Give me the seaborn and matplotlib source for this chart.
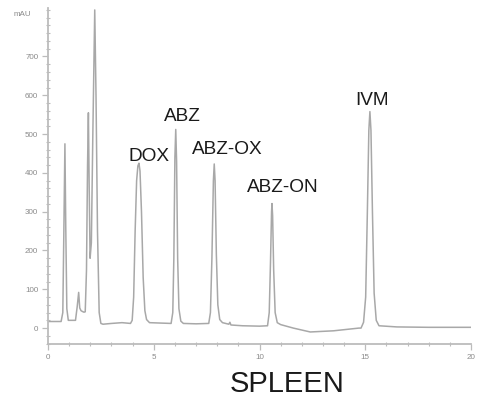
import numpy as np
import pandas as pd
import matplotlib
matplotlib.use("Agg")
import matplotlib.pyplot as plt
from matplotlib.ticker import MultipleLocator
import seaborn as sns

# ---- Chromatogram trace (retention time in min, signal in mAU) ----
time_min = [0.00, 0.62, 0.70, 0.75, 0.80, 0.84, 0.89, 0.96, 1.30, 1.38, 1.45, 1.50,
            1.56, 1.62, 1.70, 1.76, 1.82, 1.87, 1.91, 1.95, 1.99, 2.05, 2.12, 2.21,
            2.27, 2.34, 2.42, 2.50, 2.60, 3.00, 3.50, 3.90, 3.98, 4.05, 4.12, 4.19,
            4.25, 4.30, 4.35, 4.42, 4.50, 4.58, 4.66, 4.80, 5.30, 5.82, 5.90, 5.95,
            6.00, 6.04, 6.08, 6.13, 6.19, 6.28, 6.40, 7.00, 7.60, 7.68, 7.75, 7.82,
            7.86, 7.90, 7.96, 8.03, 8.12, 8.25, 8.55, 8.60, 8.65, 9.20, 10.00, 10.38,
            10.46, 10.52, 10.57, 10.59, 10.62, 10.67, 10.74, 10.84, 11.00, 11.60, 12.40,
            13.50, 14.70, 14.80, 14.92, 15.02, 15.10, 15.17, 15.22, 15.27, 15.34, 15.42,
            15.52, 15.65, 16.50, 18.00, 20.00]
signal_mau = [17, 17, 40, 250, 475, 260, 50, 20, 20, 55, 92, 52,
              45, 43, 41, 42, 150, 420, 555, 350, 180, 220, 500, 820,
              600, 250, 40, 12, 10, 12, 14, 12, 20, 80, 250, 380,
              418, 425, 405, 300, 130, 45, 22, 14, 13, 12, 40, 180,
              440, 512, 430, 180, 50, 18, 12, 11, 12, 40, 180, 380,
              423, 380, 190, 60, 22, 14, 10, 15, 8, 6, 5, 6,
              40, 170, 300, 321, 290, 150, 40, 14, 9, 0, -10,
              -7, 0, 0, 15, 80, 300, 510, 558, 510, 300, 90,
              20, 6, 3, 2, 2]

# ---- Peak labels ----
peak_names = ["DOX", "ABZ", "ABZ-OX", "ABZ-ON", "IVM"]
label_x = [4.78, 6.34, 8.46, 11.10, 15.32]
label_y = [431, 535, 449, 352, 574]

trace = pd.DataFrame({"time": time_min, "mAU": signal_mau})

sns.set_style("ticks")
plt.rcParams["font.family"] = ["Liberation Sans", "DejaVu Sans"]

W, H = 478, 403
fig = plt.figure(figsize=(W / 100, H / 100), dpi=100)
ax = fig.add_axes([48 / W, 1 - 344 / H, 423 / W, 336 / H])

axis_grey = "#bcbcbc"
text_grey = "#8a8a8a"

sns.lineplot(data=trace, x="time", y="mAU", color="#a8a8a8", lw=1.1,
             ax=ax, estimator=None, sort=False)

ax.set_xlim(0, 20.0)
ax.set_ylim(-41, 825)
ax.set_xlabel("")
ax.set_ylabel("")

ax.xaxis.set_major_locator(MultipleLocator(5))
ax.xaxis.set_minor_locator(MultipleLocator(1))
ax.yaxis.set_major_locator(MultipleLocator(100))
ax.yaxis.set_minor_locator(MultipleLocator(20))
ax.set_yticks(np.arange(0, 800, 100))

sns.despine(ax=ax)
for side in ["left", "bottom"]:
    ax.spines[side].set_color(axis_grey)
    ax.spines[side].set_linewidth(1.3)

ax.tick_params(which="major", direction="out", length=4, width=0.9,
               color=axis_grey, labelsize=5.8, labelcolor=text_grey, pad=3)
ax.tick_params(which="minor", direction="inout", length=3, width=0.8,
               color=axis_grey)

for name, x, y in zip(peak_names, label_x, label_y):
    ax.text(x, y, name, ha="center", va="baseline", fontsize=13.7, color="#1a1a1a")

fig.text(22 / W, 1 - 15 / H, "mAU", ha="center", va="center",
         fontsize=5.8, color=text_grey)
fig.text(287 / W, 1 - 392 / H, "SPLEEN", ha="center", va="baseline",
         fontsize=21, color="#1a1a1a")

fig.savefig("out.png", dpi=100)
